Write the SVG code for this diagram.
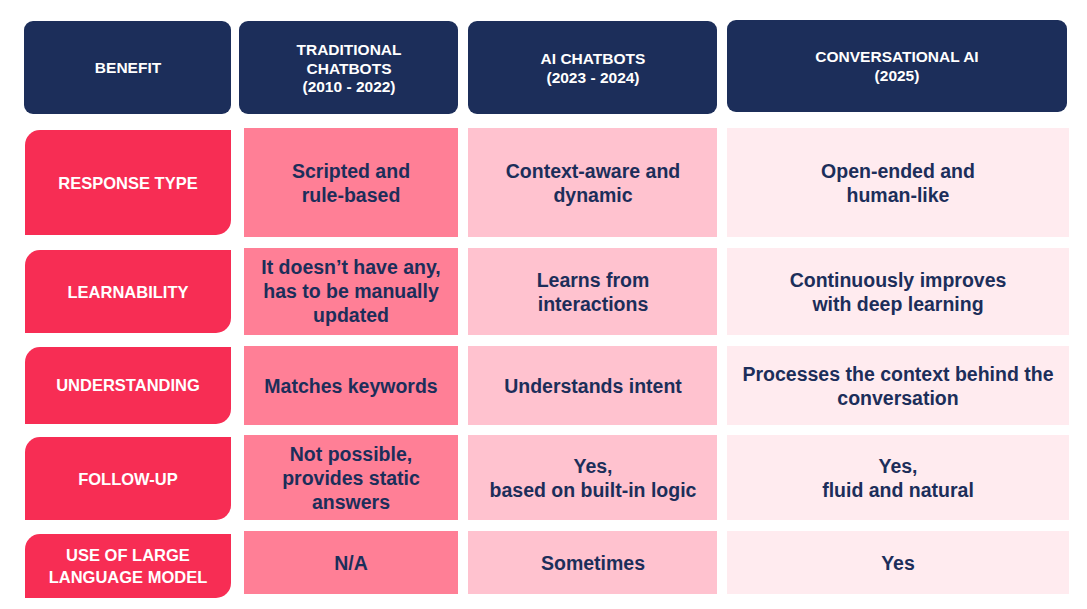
<svg xmlns="http://www.w3.org/2000/svg" width="1087" height="609" viewBox="0 0 1087 609">
<style>
.h{fill:#1c2e5a}
.l{fill:#f72d54}
.c1{fill:#ff7f96}.c2{fill:#ffc2cf}.c3{fill:#ffebef}
.ht{font-family:"Liberation Sans",Arial,sans-serif;font-weight:bold;font-size:15.5px;fill:#fff;text-anchor:middle}
.lt{font-family:"Liberation Sans",Arial,sans-serif;font-weight:bold;font-size:16.5px;fill:#fff;text-anchor:middle}
.t{font-family:"Liberation Sans",Arial,sans-serif;font-weight:bold;font-size:19.5px;fill:#1c2e5a;text-anchor:middle}
</style>
<rect width="1087" height="609" fill="#fff"/>
<g id="header">
<rect class="h" x="24" y="21" width="207" height="93" rx="9"/>
<text class="ht" x="128" y="73">BENEFIT</text>
<rect class="h" x="239" y="21" width="219" height="93" rx="9"/>
<text class="ht" x="349" y="55">TRADITIONAL</text><text class="ht" x="349" y="74">CHATBOTS</text><text class="ht" x="349" y="92">(2010 - 2022)</text>
<rect class="h" x="468" y="21" width="249" height="93" rx="9"/>
<text class="ht" x="593" y="64">AI CHATBOTS</text><text class="ht" x="593" y="83">(2023 - 2024)</text>
<rect class="h" x="727" y="20" width="340" height="92" rx="9"/>
<text class="ht" x="897" y="62">CONVERSATIONAL AI</text><text class="ht" x="897" y="81">(2025)</text>
</g>
<g id="row1">
<path class="l" d="M40 130H231V220A15 15 0 0 1 216 235H25V145A15 15 0 0 1 40 130Z"/>
<text class="lt" x="128" y="189">RESPONSE TYPE</text>
<rect class="c1" x="244" y="128" width="214" height="109"/>
<text class="t" x="351" y="178">Scripted and</text><text class="t" x="351" y="202">rule-based</text>
<rect class="c2" x="468" y="128" width="249" height="109"/>
<text class="t" x="593" y="178">Context-aware and</text><text class="t" x="593" y="202">dynamic</text>
<rect class="c3" x="727" y="128" width="342" height="109"/>
<text class="t" x="898" y="178">Open-ended and</text><text class="t" x="898" y="202">human-like</text>
</g>
<g id="row2">
<path class="l" d="M40 250H231V318A15 15 0 0 1 216 333H25V265A15 15 0 0 1 40 250Z"/>
<text class="lt" x="128" y="298">LEARNABILITY</text>
<rect class="c1" x="244" y="248" width="214" height="87"/>
<text class="t" x="351" y="274">It doesn’t have any,</text><text class="t" x="351" y="298">has to be manually</text><text class="t" x="351" y="322">updated</text>
<rect class="c2" x="468" y="248" width="249" height="87"/>
<text class="t" x="593" y="287">Learns from</text><text class="t" x="593" y="311">interactions</text>
<rect class="c3" x="727" y="248" width="342" height="87"/>
<text class="t" x="898" y="287">Continuously improves</text><text class="t" x="898" y="311">with deep learning</text>
</g>
<g id="row3">
<path class="l" d="M40 347H231V409A15 15 0 0 1 216 424H25V362A15 15 0 0 1 40 347Z"/>
<text class="lt" x="128" y="391">UNDERSTANDING</text>
<rect class="c1" x="244" y="346" width="214" height="79"/>
<text class="t" x="351" y="393">Matches keywords</text>
<rect class="c2" x="468" y="346" width="249" height="79"/>
<text class="t" x="593" y="393">Understands intent</text>
<rect class="c3" x="727" y="346" width="342" height="79"/>
<text class="t" x="898" y="381">Processes the context behind the</text><text class="t" x="898" y="405">conversation</text>
</g>
<g id="row4">
<path class="l" d="M40 437H231V505A15 15 0 0 1 216 520H25V452A15 15 0 0 1 40 437Z"/>
<text class="lt" x="128" y="485">FOLLOW-UP</text>
<rect class="c1" x="244" y="435" width="214" height="85"/>
<text class="t" x="351" y="461">Not possible,</text><text class="t" x="351" y="485">provides static</text><text class="t" x="351" y="509">answers</text>
<rect class="c2" x="468" y="435" width="249" height="85"/>
<text class="t" x="593" y="473">Yes,</text><text class="t" x="593" y="497">based on built-in logic</text>
<rect class="c3" x="727" y="435" width="342" height="85"/>
<text class="t" x="898" y="473">Yes,</text><text class="t" x="898" y="497">fluid and natural</text>
</g>
<g id="row5">
<path class="l" d="M40 534H231V583A15 15 0 0 1 216 598H25V549A15 15 0 0 1 40 534Z"/>
<text class="lt" x="128" y="561">USE OF LARGE</text><text class="lt" x="128" y="583">LANGUAGE MODEL</text>
<rect class="c1" x="244" y="531" width="214" height="63"/>
<text class="t" x="351" y="570">N/A</text>
<rect class="c2" x="468" y="531" width="249" height="63"/>
<text class="t" x="593" y="570">Sometimes</text>
<rect class="c3" x="727" y="531" width="342" height="63"/>
<text class="t" x="898" y="570">Yes</text>
</g>
<g id="connectors"/>
</svg>
